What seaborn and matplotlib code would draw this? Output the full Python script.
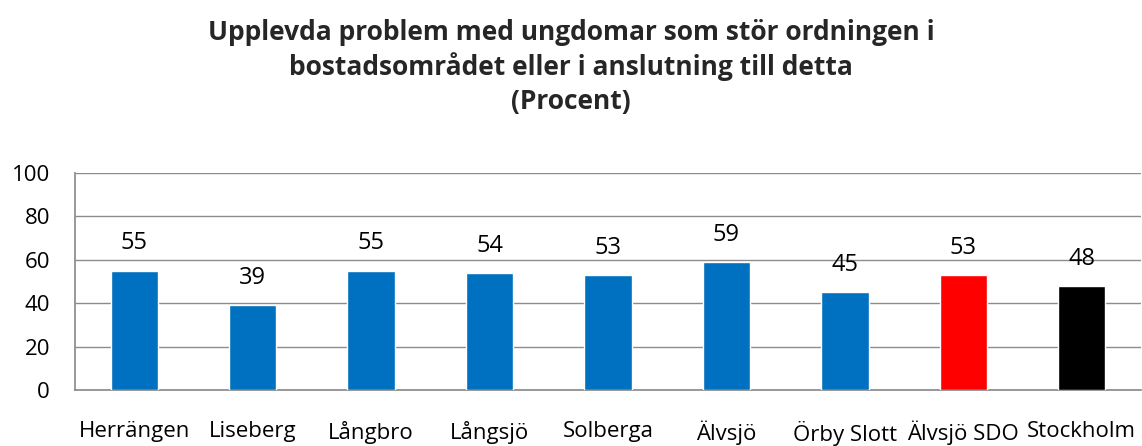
import matplotlib
matplotlib.use("Agg")
import matplotlib.pyplot as plt
import seaborn as sns
import pandas as pd

categories = ["Herrängen", "Liseberg", "Långbro", "Långsjö", "Solberga", "Älvsjö", "Örby Slott", "Älvsjö SDO", "Stockholm"]
values = [55, 39, 55, 54, 53, 59, 45, 53, 48]
colors = ["#0070C0"] * 7 + ["#FF0000", "#000000"]
title = "Upplevda problem med ungdomar som stör ordningen i\nbostadsområdet eller i anslutning till detta\n(Procent)"

sns.set_theme(style="white")
plt.rcParams["font.family"] = ["Open Sans", "DejaVu Sans"]

df = pd.DataFrame({"cat": categories, "val": values})

fig = plt.figure(figsize=(11.42, 4.46), dpi=100)
ax = fig.add_axes([75/1142, 1 - 390/446, 1066/1142, 217/446])
sns.barplot(data=df, x="cat", y="val", hue="cat", palette=colors, legend=False,
            width=0.4, ax=ax, saturation=1, zorder=3)
ax.set_ylim(0, 100)
ax.set_yticks(range(0, 101, 20))
ax.yaxis.grid(True, color="#8c8c8c", linewidth=1)
ax.set_axisbelow(True)
ax.set_xlabel("")
ax.set_ylabel("")
for s in ["top", "right"]:
    ax.spines[s].set_visible(False)
ax.spines["left"].set_color("#8c8c8c")
ax.spines["bottom"].set_color("#8c8c8c")
ax.tick_params(axis="y", labelsize=16, pad=18, length=0, colors="#000000")
ax.tick_params(axis="x", labelsize=16, pad=22, length=0, colors="#000000")

for i, v in enumerate(values):
    ax.annotate(f"{v}", (i, v), xytext=(0, 11), textcoords="offset points",
                ha="center", va="bottom", fontsize=17, color="#000000")

fig.suptitle(title, fontsize=19, fontweight="bold", y=0.958, linespacing=1.3)
fig.savefig("out.png", dpi=100)
